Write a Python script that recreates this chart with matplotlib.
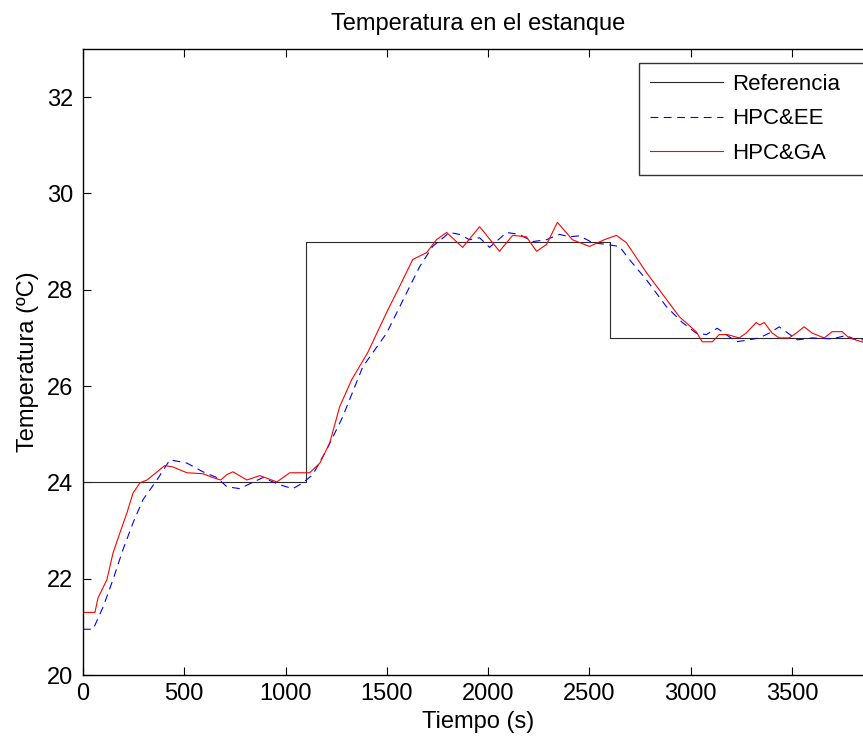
import matplotlib
matplotlib.use("Agg")
import matplotlib.pyplot as plt

plt.rcParams['font.family'] = ['Liberation Sans', 'DejaVu Sans']

# Reference (setpoint) steps
ref_t = [0, 1100, 1100, 2600, 2600, 3900]
ref_y = [24, 24, 29, 29, 27, 27]

# HPC&EE (blue dashed)
ee_t = [0, 50, 99, 148, 197, 247, 296, 365, 429, 513, 592, 661, 710, 774, 823, 888,
        971, 1036, 1085, 1134, 1203, 1282, 1381, 1499, 1598, 1662, 1726, 1810, 1859,
        1908, 1958, 2007, 2091, 2155, 2219, 2288, 2352, 2401, 2451, 2515, 2584, 2648,
        2697, 2781, 2880, 2959, 3027, 3077, 3131, 3225, 3289, 3338, 3388, 3437, 3526,
        3600, 3698, 3767, 3817, 3900]
ee_y = [20.95, 20.95, 21.41, 21.98, 22.6, 23.16, 23.64, 24.05, 24.47, 24.4, 24.22,
        24.1, 23.91, 23.87, 23.97, 24.1, 23.95, 23.87, 23.99, 24.16, 24.68, 25.36, 26.4,
        27.1, 27.94, 28.48, 28.9, 29.19, 29.15, 29.04, 29.08, 28.88, 29.19, 29.15, 29.0,
        29.04, 29.15, 29.1, 29.12, 28.98, 28.94, 28.9, 28.63, 28.21, 27.65, 27.32, 27.1,
        27.07, 27.2, 26.92, 26.96, 27.0, 27.1, 27.23, 26.96, 27.0, 26.98, 27.05, 26.96,
        26.96]

# HPC&GA (red solid)
ga_t = [0, 59, 74, 118, 148, 182, 217, 247, 281, 316, 404, 444, 513, 592, 641, 680,
        710, 740, 809, 873, 957, 1021, 1119, 1169, 1218, 1267, 1326, 1405, 1499, 1563,
        1628, 1696, 1745, 1795, 1874, 1958, 2056, 2121, 2189, 2239, 2288, 2342, 2416,
        2500, 2574, 2633, 2682, 2781, 2944, 3027, 3057, 3107, 3141, 3180, 3240, 3274,
        3323, 3340, 3363, 3402, 3437, 3486, 3521, 3560, 3600, 3659, 3698, 3748, 3782,
        3900]
ga_y = [21.3, 21.3, 21.6, 21.98, 22.53, 22.95, 23.37, 23.78, 23.99, 24.05, 24.35,
        24.32, 24.2, 24.18, 24.1, 24.05, 24.16, 24.22, 24.05, 24.14, 24.01, 24.2, 24.2,
        24.4, 24.82, 25.57, 26.13, 26.69, 27.53, 28.07, 28.63, 28.77, 29.04, 29.19,
        28.88, 29.31, 28.8, 29.13, 29.1, 28.8, 28.94, 29.4, 29.04, 28.9, 29.04, 29.13,
        28.98, 28.36, 27.44, 27.13, 26.92, 26.92, 27.07, 27.07, 27.0, 27.1, 27.32, 27.27,
        27.32, 27.1, 27.0, 27.0, 27.1, 27.23, 27.1, 27.0, 27.13, 27.13, 27.0, 26.85]

x_ticks = [0, 500, 1000, 1500, 2000, 2500, 3000, 3500]
y_ticks = [20, 22, 24, 26, 28, 30, 32]

fig = plt.figure(figsize=(8.63, 7.43), dpi=100)
ax_w_px = 873 - 83
ax = fig.add_axes([83 / 863, (743 - 675) / 743, ax_w_px / 863, (675 - 49) / 743])

ax.plot(ref_t, ref_y, color='#2a2a2a', lw=0.8, label='Referencia')
ax.plot(ee_t, ee_y, color='blue', lw=0.8, ls=(0, (7, 5)), label='HPC&EE')
ax.plot(ga_t, ga_y, color='red', lw=0.8, label='HPC&GA')

ax.set_xlim(0, 3900)
ax.set_ylim(20, 33)
ax.set_xticks(x_ticks)
ax.set_yticks(y_ticks)
ax.tick_params(axis='both', direction='in', top=True, right=True, length=6,
               width=0.8, labelsize=17)
ax.tick_params(axis='y', pad=7)
ax.tick_params(axis='x', pad=6)
for s in ax.spines.values():
    s.set_linewidth(1.0)

ax.set_title('Temperatura en el estanque', fontsize=17, pad=14)
ax.set_xlabel('Tiempo (s)', fontsize=17, labelpad=4)
ax.set_ylabel('Temperatura (ºC)', fontsize=17, labelpad=6)

lx0 = (639 - 83) / ax_w_px
lw_ = (868 - 639) / ax_w_px
ly1 = (675 - 63) / 626
ly0 = (675 - 173) / 626
leg = ax.legend(loc='upper left', bbox_to_anchor=(lx0, ly0, lw_, ly1 - ly0),
                mode='expand', fontsize=16, frameon=True, fancybox=False,
                edgecolor='black', handlelength=3.3, handletextpad=0.38,
                labelspacing=0.6, borderpad=0.5, borderaxespad=0)
leg.get_frame().set_linewidth(1.0)

fig.savefig('out.png', dpi=100)
